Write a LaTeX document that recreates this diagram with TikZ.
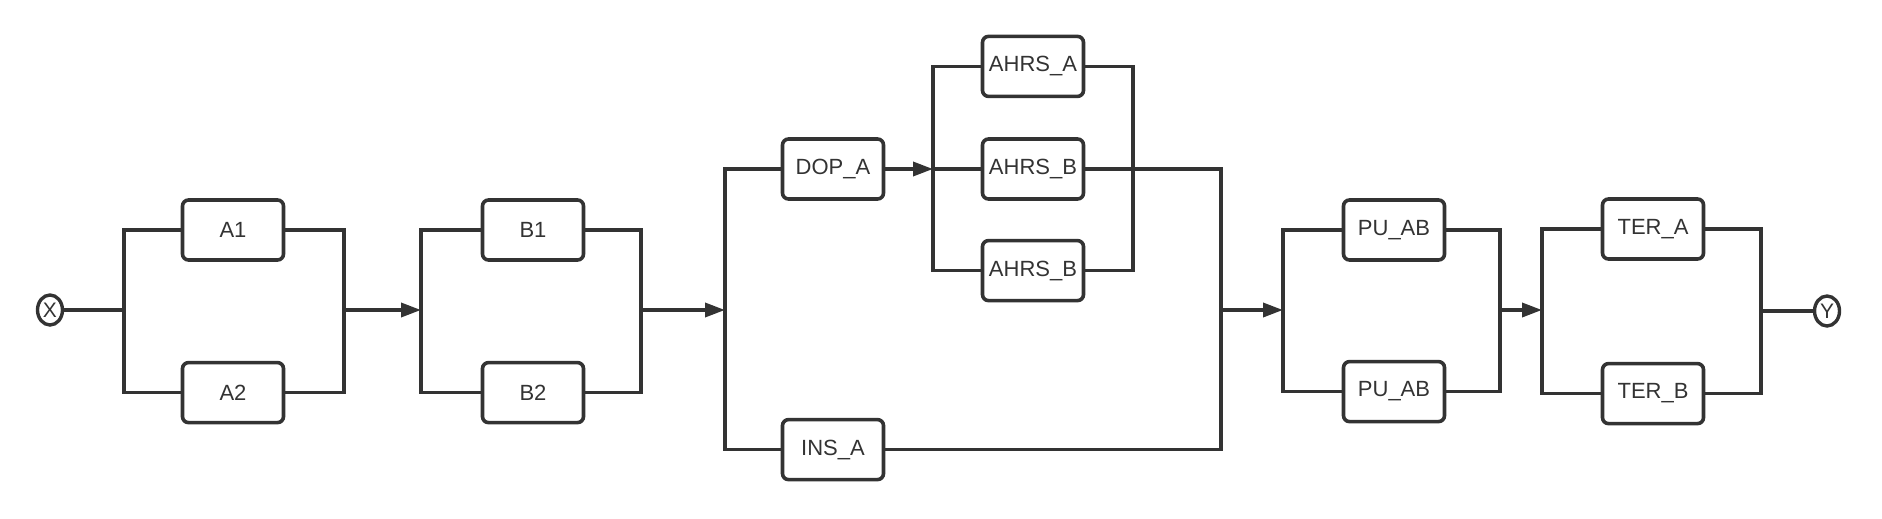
\documentclass[tikz,border=0pt]{standalone}
\usepackage{fontspec}
\setmainfont{Liberation Sans}
\usetikzlibrary{positioning,arrows.meta,shapes.geometric}
\definecolor{ink}{HTML}{333333}
\tikzset{
  blk/.style={draw=ink, line width=3.6pt, rounded corners=6pt, minimum width=101pt,
    minimum height=60pt, inner sep=0pt, text=ink, font=\fontsize{22}{26}\selectfont},
  term/.style={ellipse, draw=ink, line width=3.4pt, minimum width=25pt, minimum height=30pt,
    inner sep=0pt, text=ink, font=\fontsize{21}{24}\selectfont},
  wire/.style={draw=ink, line width=3.6pt},
  feed/.style={wire, -{Triangle[length=20pt,width=14pt]}},
}
\begin{document}
\begin{tikzpicture}[x=1pt,y=-1pt]
\useasboundingbox (0,0) rectangle (1882,519);
\node[term] (x) at (50,310) {X};
\node[term] (y) at (1827,311) {Y};
\node[blk] (a1) at (233,230) {A1};
\node[blk,below=99pt of a1] (a2) {A2};
\node[blk] (b1) at (533,230) {B1};
\node[blk,below=99pt of b1] (b2) {B2};
\node[blk] (dop) at (833,169) {DOP\_A};
\node[blk,below=217pt of dop] (ins) {INS\_A};
\node[blk] (hb) at (1033,169) {AHRS\_B};
\node[blk,above=39pt of hb] (ha) {AHRS\_A};
\node[blk,below=38pt of hb] (hc) {AHRS\_B};
\node[blk] (p1) at (1394,230) {PU\_AB};
\node[blk,below=98pt of p1] (p2) {PU\_AB};
\node[blk] (t1) at (1653,229) {TER\_A};
\node[blk,below=101pt of t1] (t2) {TER\_B};
\coordinate (aL) at (124,310);
\coordinate (aR) at (344,310);
\coordinate (bL) at (421,310);
\coordinate (bR) at (641,310);
\coordinate (dL) at (725,310);
\coordinate (hL) at (933,169);
\coordinate (hR) at (1133,169);
\coordinate (dR) at (1221,310);
\coordinate (pL) at (1283,310);
\coordinate (pR) at (1500,310);
\coordinate (tL) at (1542,310);
\coordinate (tR) at (1761,311);
\draw[wire] (x) -- (aL) (aL) |- (a1) (aL) |- (a2) (a1) -| (aR) (a2) -| (aR);
\draw[feed] (aR) -- (bL);
\draw[wire] (bL) |- (b1) (bL) |- (b2) (b1) -| (bR) (b2) -| (bR);
\draw[feed] (bR) -- (dL);
\draw[wire] (dL) |- (dop) (dL) |- (ins) (ins) -| (dR);
\draw[feed] (dop) -- (hL);
\draw[wire] (hL) -- (hb) (hL) |- (ha) (hL) |- (hc) (ha) -| (hR) (hc) -| (hR) (hb) -| (dR);
\draw[feed] (dR) -- (pL);
\draw[wire] (pL) |- (p1) (pL) |- (p2) (p1) -| (pR) (p2) -| (pR);
\draw[feed] (pR) -- (tL);
\draw[wire] (tL) |- (t1) (tL) |- (t2) (t1) -| (tR) (t2) -| (tR) (tR) -- (y);
\end{tikzpicture}
\end{document}
